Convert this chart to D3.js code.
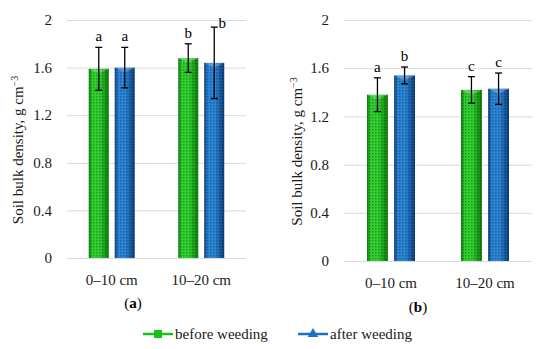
<!DOCTYPE html>
<html>
<head>
<meta charset="utf-8">
<script src="https://cdn.jsdelivr.net/npm/d3@7"></script>
<style>
  body { margin: 0; background: #fff; }
  svg { display: block; font-family: "Liberation Serif", serif; }
</style>
</head>
<body>
<div id="chart"></div>
<script>
// data
var depths = ["0\u201310 cm", "10\u201320 cm"];
var series = ["before weeding", "after weeding"];
var yTicks = [0, 0.4, 0.8, 1.2, 1.6, 2];

// panel (a)
var aBefore = [1.59, 1.68], aBeforeErr = [0.18, 0.12];
var aAfter = [1.60, 1.64], aAfterErr = [0.17, 0.30];
var aBeforeLetters = ["a", "b"], aAfterLetters = ["a", "b"];

// panel (b)
var bBefore = [1.38, 1.42], bBeforeErr = [0.14, 0.11];
var bAfter = [1.54, 1.43], bAfterErr = [0.07, 0.13];
var bBeforeLetters = ["a", "c"], bAfterLetters = ["b", "c"];

var colors = { "before weeding": ["#0b7d0b", "#2fd22f"], "after weeding": ["#0c3f7c", "#2b86d8"] };
var lineColors = { "before weeding": "#18c018", "after weeding": "#1a72c4" };

var svg = d3.select("#chart").append("svg")
  .attr("width", 550).attr("height", 349);

var defs = svg.append("defs");
series.forEach(function(s, i){
  var g = defs.append("linearGradient").attr("id", "grad" + i)
    .attr("x1", "0%").attr("x2", "100%").attr("y1", "0%").attr("y2", "0%");
  g.append("stop").attr("offset", "0%").attr("stop-color", colors[s][0]);
  g.append("stop").attr("offset", "18%").attr("stop-color", colors[s][1]);
  g.append("stop").attr("offset", "55%").attr("stop-color", colors[s][1]);
  g.append("stop").attr("offset", "100%").attr("stop-color", colors[s][0]);
});
var pat = defs.append("pattern").attr("id", "dots")
  .attr("width", 3).attr("height", 3).attr("patternUnits", "userSpaceOnUse");
pat.append("rect").attr("width", 1.5).attr("height", 1.5).attr("fill", "rgba(0,0,0,0.28)");

function drawPanel(p){
  var y = d3.scaleLinear().domain([0, 2]).range(p.yRange);
  var x0 = d3.scaleBand().domain(depths).range(p.xRange).paddingInner(0);
  var x1 = d3.scaleBand().domain(series).range([-p.groupW / 2, p.groupW / 2]).paddingInner(0.23);

  var g = svg.append("g");

  // gridlines + labels
  g.selectAll(".grid").data(yTicks).enter().append("line")
    .attr("x1", p.xRange[0]).attr("x2", p.xRange[1])
    .attr("y1", d => y(d) + 0.5).attr("y2", d => y(d) + 0.5)
    .attr("stroke", "#d9d9d9").attr("stroke-width", 1);
  g.selectAll(".tick").data(yTicks).enter().append("text")
    .attr("x", p.xRange[0] - 15).attr("y", d => y(d)).attr("dy", "0.35em")
    .attr("text-anchor", "end").attr("font-size", 15).attr("fill", "#1a1a1a")
    .text(d => d3.format("~g")(d));

  var rows = [];
  depths.forEach(function(d, i){
    rows.push({ depth: d, s: "before weeding", v: p.before[i], e: p.beforeErr[i], l: p.beforeLetters[i] });
    rows.push({ depth: d, s: "after weeding", v: p.after[i], e: p.afterErr[i], l: p.afterLetters[i] });
  });

  var cx = d => x0(d.depth) + x0.bandwidth() / 2 + x1(d.s);
  var bw = x1.bandwidth();

  g.selectAll(".bar").data(rows).enter().append("rect")
    .attr("x", cx).attr("width", bw)
    .attr("y", d => y(d.v)).attr("height", d => y(0) - y(d.v))
    .attr("fill", d => "url(#grad" + series.indexOf(d.s) + ")");
  g.selectAll(".dots").data(rows).enter().append("rect")
    .attr("x", cx).attr("width", bw)
    .attr("y", d => y(d.v)).attr("height", d => y(0) - y(d.v))
    .attr("fill", "url(#dots)");
  // top bevel
  g.selectAll(".top").data(rows).enter().append("path")
    .attr("d", function(d){
      var x = cx(d), t = y(d.v);
      return "M" + x + "," + t + "L" + (x + bw) + "," + t + "L" + (x + bw / 2) + "," + (t + 5) + "Z";
    })
    .attr("fill", "rgba(255,255,255,0.25)");

  // error bars
  var eb = g.selectAll(".err").data(rows).enter().append("g")
    .attr("stroke", "#000").attr("stroke-width", 1.3);
  eb.append("line").attr("x1", d => cx(d) + bw / 2).attr("x2", d => cx(d) + bw / 2)
    .attr("y1", d => y(d.v + d.e)).attr("y2", d => y(d.v - d.e));
  eb.append("line").attr("x1", d => cx(d) + bw / 2 - 3.5).attr("x2", d => cx(d) + bw / 2 + 3.5)
    .attr("y1", d => y(d.v + d.e)).attr("y2", d => y(d.v + d.e));
  eb.append("line").attr("x1", d => cx(d) + bw / 2 - 3.5).attr("x2", d => cx(d) + bw / 2 + 3.5)
    .attr("y1", d => y(d.v - d.e)).attr("y2", d => y(d.v - d.e));

  // significance letters
  g.selectAll(".letter").data(rows).enter().append("text")
    .attr("x", d => cx(d) + bw / 2 + (y(d.v + d.e) < 35 ? 8 : 0))
    .attr("y", d => y(d.v + d.e) - (y(d.v + d.e) < 35 ? -1 : 6))
    .attr("text-anchor", "middle").attr("font-size", 15).attr("fill", "#000")
    .text(d => d.l);

  // category labels
  g.selectAll(".cat").data(depths).enter().append("text")
    .attr("x", d => x0(d) + x0.bandwidth() / 2)
    .attr("y", y(0) + 27)
    .attr("text-anchor", "middle").attr("font-size", 15).attr("fill", "#1a1a1a")
    .text(d => d);

  // axis title
  var t = g.append("text")
    .attr("transform", "translate(" + p.titleX + "," + ((p.yRange[0] + p.yRange[1]) / 2 + 11) + ") rotate(-90)")
    .attr("text-anchor", "middle").attr("font-size", 15).attr("fill", "#1a1a1a");
  t.append("tspan").text("Soil bulk density, g cm");
  t.append("tspan").attr("dy", -5).attr("font-size", 10).text("\u22123");

  // panel letter
  var pl = g.append("text").attr("x", p.labelX).attr("y", p.labelY)
    .attr("text-anchor", "middle").attr("font-size", 15).attr("fill", "#000");
  pl.append("tspan").text("(");
  pl.append("tspan").attr("font-weight", "bold").text(p.name);
  pl.append("tspan").text(")");
}

drawPanel({ name: "a", before: aBefore, beforeErr: aBeforeErr, after: aAfter, afterErr: aAfterErr,
  beforeLetters: aBeforeLetters, afterLetters: aAfterLetters,
  yRange: [258, 20], xRange: [67, 246], groupW: 46, titleX: 23, labelX: 133, labelY: 308 });
drawPanel({ name: "b", before: bBefore, beforeErr: bBeforeErr, after: bAfter, afterErr: bAfterErr,
  beforeLetters: bBeforeLetters, afterLetters: bAfterLetters,
  yRange: [261, 20], xRange: [344, 532], groupW: 48, titleX: 302, labelX: 418, labelY: 312 });

// legend
var legX = [143, 298];
var leg = svg.selectAll(".leg").data(series).enter().append("g")
  .attr("transform", (d, i) => "translate(" + legX[i] + ",334)");
leg.append("line").attr("x1", 0).attr("x2", 30).attr("y1", 0).attr("y2", 0)
  .attr("stroke", d => lineColors[d]).attr("stroke-width", 2.5);
leg.append("path")
  .attr("d", (d, i) => d3.symbol().type(i === 0 ? d3.symbolSquare : d3.symbolTriangle).size(i === 0 ? 64 : 48)())
  .attr("transform", "translate(15,0)")
  .attr("fill", d => lineColors[d]);
leg.append("text").attr("x", 32).attr("y", 0).attr("dy", "0.35em")
  .attr("font-size", 15).attr("fill", "#1a1a1a").text(d => d);
</script>
</body>
</html>
